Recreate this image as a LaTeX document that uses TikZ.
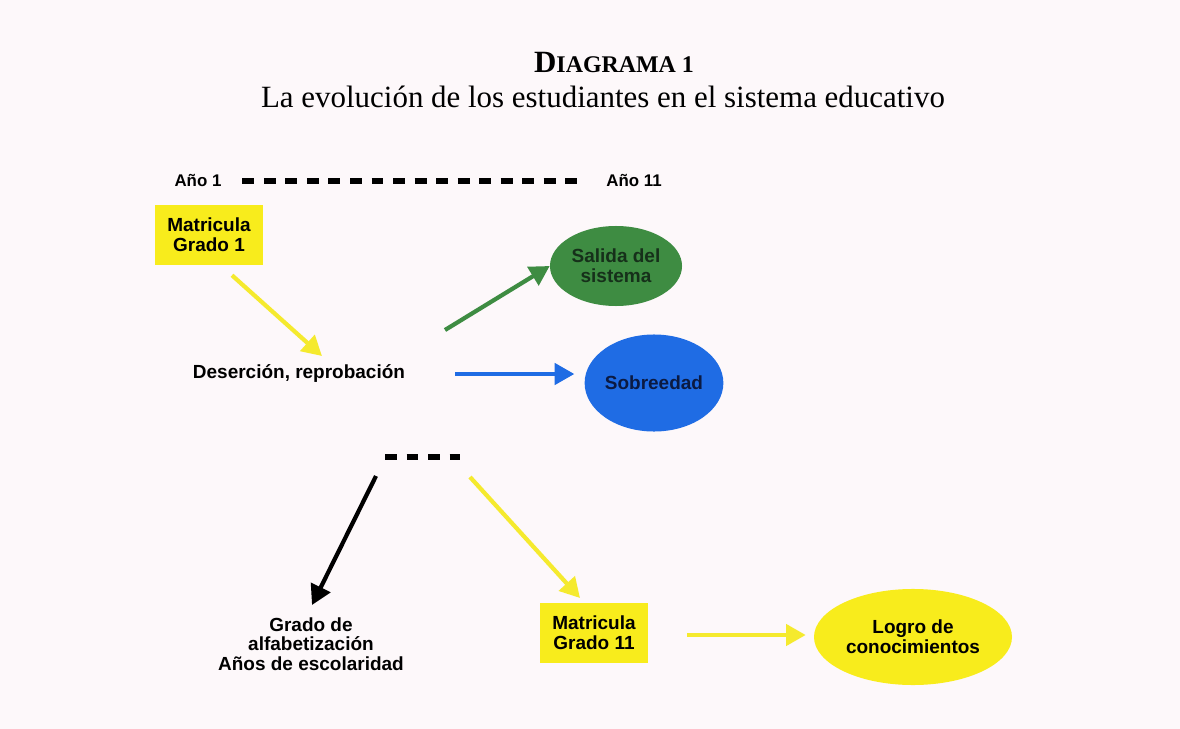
\documentclass[tikz,border=0pt]{standalone}
\usepackage{fontspec}
\setmainfont{Liberation Serif}
\setsansfont{Liberation Sans}
\usetikzlibrary{arrows.meta,shapes.geometric}
\definecolor{bgpink}{HTML}{FDF8FA}
\definecolor{boxyellow}{HTML}{F8EC1C}
\definecolor{arrowyellow}{HTML}{F5EA2E}
\definecolor{exitgreen}{HTML}{3E8C42}
\definecolor{overblue}{HTML}{1F6CE4}
\definecolor{darkgreen}{HTML}{16301A}
\definecolor{darknavy}{HTML}{0B1A42}
\tikzset{
  lbl/.style={font=\sffamily\bfseries\fontsize{13.5}{14}\selectfont, align=center},
  yearlbl/.style={font=\sffamily\bfseries\fontsize{12}{14}\selectfont},
  ybox/.style={lbl, fill=boxyellow, minimum width=76.8pt, minimum height=42.7pt, inner sep=0pt},
  blob/.style={lbl, ellipse, inner sep=0pt},
  flow/.style={line width=3pt, -{Triangle[length=14pt,width=15pt]}},
  timeline/.style={line width=3.6pt, dash pattern=on 8.5pt off 6.8pt},
}

\begin{document}
\begin{tikzpicture}[x=0.025cm,y=-0.025cm]
  % background
  \fill[bgpink] (0,0) rectangle (1180,729);

  % title
  \node (title) at (614,62) {\bfseries\fontsize{22}{24}\selectfont D\fontsize{17}{24}\selectfont IAGRAMA 1};
  \node (subtitle) at (603,97) {\fontsize{22}{24}\selectfont La evolución de los estudiantes en el sistema educativo};

  % years
  \node[yearlbl] (a1) at (198,181) {Año 1};
  \node[yearlbl] (a11) at (634,181) {Año 11};
  \draw[timeline, shorten <=11.4pt, shorten >=15.6pt] (a1.east) -- (a11.west);

  % first grade and drop-out
  \node[ybox] (m1) at (209,235) {Matricula\\Grado 1};
  \node[lbl] (deser) at (299,374) {Deserción, reprobación};
  \node[blob, fill=exitgreen, text=darkgreen, minimum width=93.9pt, minimum height=56.9pt] (salida) at (616,266) {Salida del\\sistema};
  \node[blob, fill=overblue, text=darknavy, minimum width=93.9pt, minimum height=69pt] (sobre) at (654,383) {Sobreedad};

  \draw[flow, arrowyellow] ([shift={(23,10)}]m1.south) -- ([shift={(23,-18)}]deser.center);
  \draw[flow, exitgreen] ([shift={(146,-44)}]deser.center) -- (salida.west);
  \draw[flow, overblue] ([shift={(156,0)}]deser.center) -- ([shift={(-10,-9)}]sobre.west);

  % break
  \coordinate (brkL) at (385,457);
  \coordinate (brkR) at (460,457);
  \coordinate (brk) at (422,457);
  \draw[timeline] (brkL) -- (brkR);

  % eleventh grade
  \node[lbl] (alfa) at (311,644) {Grado de\\alfabetización\\Años de escolaridad};
  \node[ybox] (m11) at (594,633) {Matricula\\Grado 11};
  \node[blob, fill=boxyellow, minimum width=140.8pt, minimum height=68.3pt] (logro) at (913,637) {Logro de\\conocimientos};

  \draw[flow, black] ([shift={(-46,19)}]brk) -- ([shift={(1,-39)}]alfa.center);
  \draw[flow, arrowyellow] ([shift={(48,20)}]brk) -- ([shift={(-14,-35)}]m11.center);
  \draw[flow, arrowyellow] ([shift={(93,2)}]m11.center) -- ([shift={(-8,-2)}]logro.west);
\end{tikzpicture}
\end{document}
